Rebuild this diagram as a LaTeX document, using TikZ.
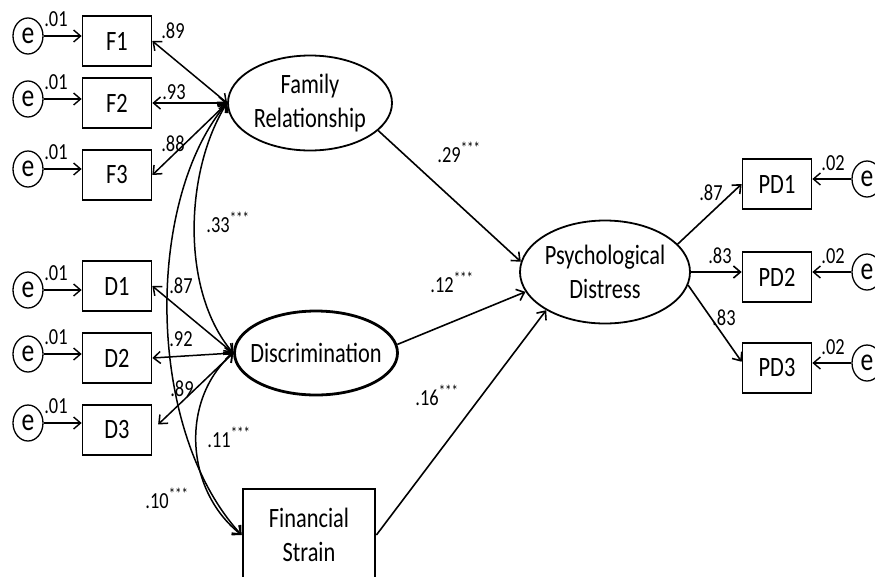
\documentclass[tikz,border=0pt]{standalone}
\usepackage{fontspec}
\setmainfont{Carlito}[FakeStretch=0.8]
\usetikzlibrary{shapes.geometric,arrows.meta}

\begin{document}
\begin{tikzpicture}[x=1pt,y=-1pt,
    >={Straight Barb[length=7pt,width=12pt]},
    ind/.style={draw,line width=1.7pt,minimum width=69pt,minimum height=50pt,inner sep=0pt,font=\fontsize{28}{34}\selectfont},
    err/.style={ellipse,draw,line width=1.3pt,minimum width=30pt,minimum height=36pt,inner sep=0pt,font=\fontsize{32}{34}\selectfont},
    lat/.style={ellipse,draw,line width=1.8pt,align=center,inner sep=0pt,font=\fontsize{28}{34}\selectfont},
    val/.style={inner sep=0pt,font=\fontsize{23}{26}\selectfont},
    reg/.style={->,line width=1.6pt},
    cov/.style={<->,line width=1.5pt}]
            \useasboundingbox (0,0) rectangle (875,576);

            % Latente Variablen:
            \node[lat,minimum width=164pt,minimum height=95pt] (FR) at (310,103) {Family\\Relationship};
            \node[lat,line width=2.8pt,inner xsep=-12pt,minimum width=163pt,minimum height=84pt] (DI) at (316,353) {Discrimination};
            \node[lat,inner xsep=-2pt,minimum width=170pt,minimum height=103pt] (PD) at (605,272) {Psychological\\Distress};
            \node[ind,line width=2.8pt,align=center,minimum width=132pt,minimum height=92pt] (FS) at (309,535) {Financial\\Strain};

            % Indikatoren links:
            \foreach \n/\y/\ey in {F1/41/36, F2/103/99, F3/175/169, D1/286/290, D2/358/354, D3/430/423}{
            \node[ind] (\n) at (117,\y) {\n};
            \node[err] (e\n) at (28,\ey) {e};
            \draw[->,line width=1.4pt] (e\n) -- (\n.west |- e\n);
            \node[val] (r\n) at (56,\ey-17) {.01};
            }

            % Indikatoren rechts:
            \foreach \n/\y/\ey in {PD1/184/179, PD2/277/272, PD3/368/363}{
            \node[ind] (\n) at (777,\y) {\n};
            \node[err] (e\n) at (867,\ey) {e};
            \draw[->,line width=1.4pt] (e\n) -- (\n.east |- e\n);
            \node[val] (r\n) at (833,\ey-16) {.02};
            }

            % Ladungen:
            \foreach \n/\v/\x/\y in {F1/.89/173/31, F2/.93/174/92, F3/.88/173/144}{
            \draw[cov] (\n.east) -- (FR.west);
            \node[val] (v\n) at (\x,\y) {\v};
            }
            \foreach \n/\v/\x/\y/\s in {D1/.87/181/286/0, D2/.92/181/339/0, D3/.89/182/389/8}{
            \draw[cov,shorten <=\s pt] (\n.east) -- (DI.west);
            \node[val] (v\n) at (\x,\y) {\v};
            }
            \draw[reg] (PD.21) -- (PD1.west);
            \draw[reg] (PD.east) -- (PD2.west |- PD.east);
            \draw[reg] (PD.-9) -- (PD3.170);
            \node[val] (vPD1) at (711,193) {.87};
            \node[val] (vPD2) at (720,256) {.83};
            \node[val] (vPD3) at (724,318) {.83};

            % Kovarianzen:
            \draw[cov] (FR.west) .. controls (185,170) and (180,290) .. (DI.west);
            \draw[cov] (FR.west) .. controls (145,200) and (145,430) .. (FS.west);
            \draw[cov] (DI.west) .. controls (180,400) and (185,490) .. (FS.west);
            \node[val] (cFD) at (228,222) {.33\textsuperscript{***}};
            \node[val] (cDS) at (229,437) {.11\textsuperscript{***}};
            \node[val] (cFS) at (167,498) {.10\textsuperscript{***}};

            % Pfade:
            \draw[reg] (FR.-22) -- (PD.173);
            \draw[reg] (DI.6) -- (PD.194);
            \draw[reg] (FS.east) -- (PD.213);
            \node[val] (pFR) at (459,152) {.29\textsuperscript{***}};
            \node[val] (pDI) at (452,282) {.12\textsuperscript{***}};
            \node[val] (pFS) at (437,395) {.16\textsuperscript{***}};

      \end{tikzpicture}
\end{document}
